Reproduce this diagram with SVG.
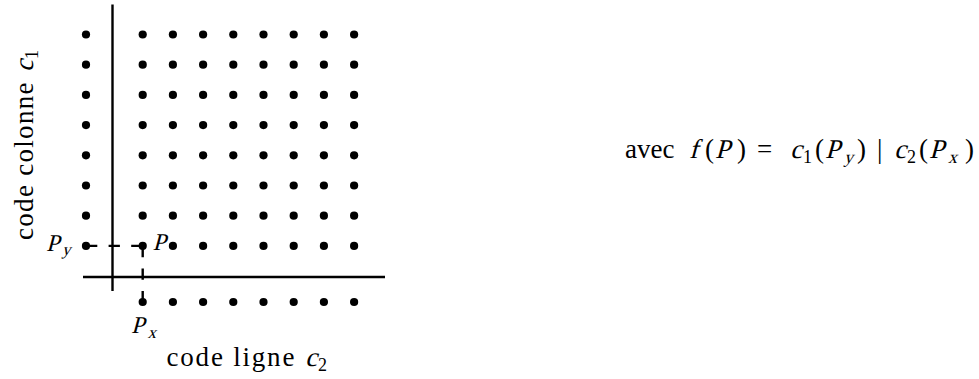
<svg xmlns="http://www.w3.org/2000/svg" width="979" height="379" viewBox="0 0 979 379">
<style>
  .dot { fill: #000; }
  .axis { stroke: #000; stroke-width: 2.4; fill: none; }
  .dash { stroke: #000; stroke-width: 2.4; fill: none; stroke-dasharray: 11.3 11.3; }
  text { font-family: 'Liberation Serif', serif; fill: #000; }
</style>
<defs>
  <circle id="d" r="4.1" class="dot"/>
  <g id="row8">
    <use href="#d" x="142.7"/><use href="#d" x="172.9"/><use href="#d" x="203.1"/><use href="#d" x="233.3"/>
    <use href="#d" x="263.5"/><use href="#d" x="293.7"/><use href="#d" x="323.9"/><use href="#d" x="354.1"/>
  </g>
</defs>
<rect width="979" height="379" fill="#fff"/>

<g id="connectors">
  <path class="dash" d="M86,245.9 H142.7"/>
  <path class="dash" d="M142.7,245.9 V302"/>
</g>

<g id="axes">
  <line class="axis" x1="112.5" y1="4.5" x2="112.5" y2="291"/>
  <line class="axis" x1="83" y1="277" x2="385" y2="277"/>
</g>

<g id="grid">
  <use href="#row8" y="34.5"/>
  <use href="#row8" y="64.7"/>
  <use href="#row8" y="94.9"/>
  <use href="#row8" y="125.1"/>
  <use href="#row8" y="155.3"/>
  <use href="#row8" y="185.5"/>
  <use href="#row8" y="215.7"/>
  <use href="#d" x="172.9" y="245.9"/><use href="#d" x="203.1" y="245.9"/><use href="#d" x="233.3" y="245.9"/>
  <use href="#d" x="263.5" y="245.9"/><use href="#d" x="293.7" y="245.9"/><use href="#d" x="323.9" y="245.9"/><use href="#d" x="354.1" y="245.9"/>
</g>

<g id="column-codes">
  <use href="#d" x="86" y="34.5"/><use href="#d" x="86" y="64.7"/><use href="#d" x="86" y="94.9"/><use href="#d" x="86" y="125.1"/>
  <use href="#d" x="86" y="155.3"/><use href="#d" x="86" y="185.5"/><use href="#d" x="86" y="215.7"/>
</g>

<g id="line-codes">
  <use href="#d" x="172.9" y="302"/><use href="#d" x="203.1" y="302"/><use href="#d" x="233.3" y="302"/>
  <use href="#d" x="263.5" y="302"/><use href="#d" x="293.7" y="302"/><use href="#d" x="323.9" y="302"/><use href="#d" x="354.1" y="302"/>
</g>

<g id="node-Py">
  <use href="#d" x="86" y="245.9"/>
  <text transform="translate(46,250.5) skewX(-15)" font-size="24">P</text>
  <text transform="translate(62,255) skewX(-15)" font-size="17">y</text>
</g>

<g id="node-P">
  <use href="#d" x="142.7" y="245.9"/>
  <text transform="translate(152.5,249.5) skewX(-15)" font-size="24">P</text>
</g>

<g id="node-Px">
  <use href="#d" x="142.7" y="302"/>
  <text transform="translate(131,333) skewX(-15)" font-size="24">P</text>
  <text transform="translate(147.5,338) skewX(-15)" font-size="17">x</text>
</g>

<g id="label-c1" transform="translate(33,240) rotate(-90)">
  <text x="0" y="0" font-size="27" letter-spacing="1.3">code colonne</text>
  <text transform="translate(168,0) skewX(-15)" font-size="27">c</text>
  <text x="181" y="5" font-size="18">1</text>
</g>

<g id="label-c2">
  <text x="166.5" y="366" font-size="27" letter-spacing="1.8">code ligne</text>
  <text transform="translate(305,366) skewX(-15)" font-size="27">c</text>
  <text x="318" y="371" font-size="18">2</text>
</g>

<g id="formula" font-size="27">
  <text x="625" y="158.3">avec</text>
  <text transform="translate(689,158.3) skewX(-15)">f</text>
  <text x="705" y="158.3">(</text>
  <text transform="translate(715,158.3) skewX(-15)">P</text>
  <text x="737" y="158.3">)</text>
  <text x="757" y="158.3">=</text>
  <text transform="translate(790,158.3) skewX(-15)">c</text>
  <text x="803" y="163" font-size="18">1</text>
  <text x="815" y="158.3">(</text>
  <text transform="translate(825,158.3) skewX(-15)">P</text>
  <text transform="translate(844,163) skewX(-15)" font-size="18">y</text>
  <text x="857" y="158.3">)</text>
  <text x="877" y="158.3">|</text>
  <text transform="translate(894,158.3) skewX(-15)">c</text>
  <text x="907" y="163" font-size="18">2</text>
  <text x="919" y="158.3">(</text>
  <text transform="translate(929,158.3) skewX(-15)">P</text>
  <text transform="translate(948,163) skewX(-15)" font-size="18">x</text>
  <text x="965" y="158.3">)</text>
</g>
</svg>
